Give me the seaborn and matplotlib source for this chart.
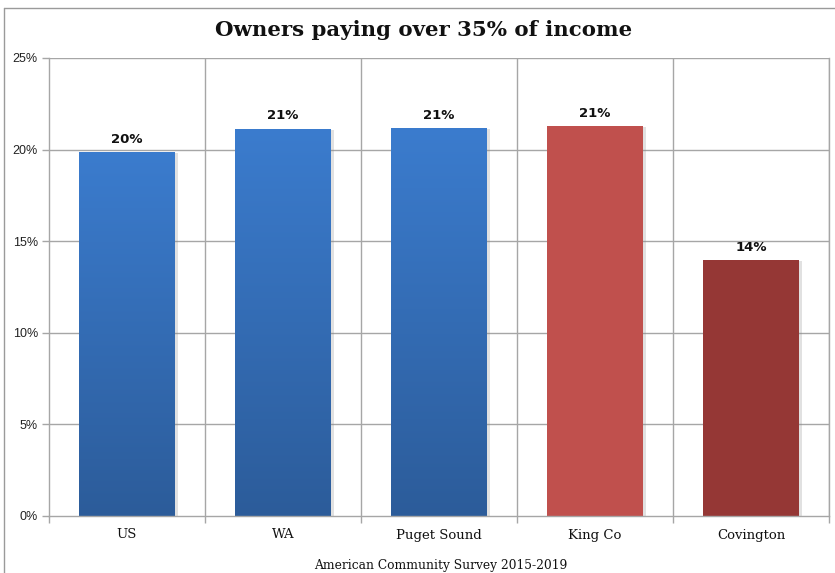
import numpy as np
import pandas as pd
import matplotlib
matplotlib.use("Agg")
import matplotlib.pyplot as plt
import matplotlib.patheffects as pe
from matplotlib.lines import Line2D
import seaborn as sns

# Share of owner households spending more than 35% of income on housing
regions = ["US", "WA", "Puget Sound", "King Co", "Covington"]
shares = [19.87, 21.13, 21.18, 21.29, 13.97]
bar_colors = ["#3A7ACB", "#3A7ACB", "#3A7ACB", "#C0504D", "#953735"]
y_ticks = [0, 5, 10, 15, 20, 25]
title_text = "Owners paying over 35% of income"
source_text = "American Community Survey 2015-2019"

df = pd.DataFrame({"region": regions, "share": shares})

sns.set_theme(style="white")
plt.rcParams["font.family"] = ["DejaVu Serif"]

fig = plt.figure(figsize=(8.35, 5.73), dpi=100)
ax = fig.add_axes([49 / 835, 57 / 573, 780 / 835, 458 / 573])

sns.barplot(data=df, x="region", y="share", hue="region", palette=bar_colors,
            order=regions, width=0.615, legend=False, ax=ax, saturation=1)

ax.set_ylim(0, 25)
ax.set_xlim(-0.5, len(regions) - 0.5)

# Vertical gradient fill for the blue bars, soft shadow for all
grad = np.linspace(0, 1, 256).reshape(-1, 1)
blue_cmap = matplotlib.colors.LinearSegmentedColormap.from_list(
    "bluegrad", ["#2C5C9A", "#3B7CCE"])
for patch, col in zip(ax.patches, bar_colors):
    patch.set_edgecolor("none")
    patch.set_path_effects([pe.SimplePatchShadow(offset=(2, -1), shadow_rgbFace="#888888", alpha=0.25),
                            pe.Normal()])
    if col == "#3A7ACB":
        x0, y0 = patch.get_x(), patch.get_y()
        w, h = patch.get_width(), patch.get_height()
        im = ax.imshow(grad, cmap=blue_cmap, aspect="auto", origin="lower",
                       extent=[x0, x0 + w, y0, y0 + h], zorder=patch.get_zorder() + 0.1)
        im.set_clip_path(patch)
ax.set_xlim(-0.5, len(regions) - 0.5)
ax.set_ylim(0, 25)

# Value labels above bars
for i, v in enumerate(shares):
    ax.text(i, v + 0.35, f"{v:.0f}%", ha="center", va="bottom",
            fontsize=9.5, fontweight="bold", family=["DejaVu Sans"], color="#111111")

# Grid: horizontal at ticks, vertical between categories
grid_color = "#A6A6A6"
ax.set_yticks(y_ticks)
ax.set_yticklabels([f"{t}%" for t in y_ticks], family=["Liberation Sans"], fontsize=9, color="#222222")
for t in y_ticks[1:]:
    ax.axhline(t, color=grid_color, lw=1, zorder=0)
for b in np.arange(0.5, len(regions) - 0.5 + 1e-9, 1.0):
    ax.axvline(b, color=grid_color, lw=1, zorder=0)

ax.set_xticks(range(len(regions)))
ax.set_xticklabels(regions, fontsize=9.5, color="#111111")
ax.tick_params(axis="x", length=0, pad=9)
ax.tick_params(axis="y", length=5, width=1, color=grid_color, direction="out", pad=3, left=True)
# small boundary ticks below the baseline
ax.set_xticks(np.arange(-0.5, len(regions)), minor=True)
ax.tick_params(axis="x", which="minor", length=5, width=1, color=grid_color, direction="out", bottom=True)

ax.set_xlabel("")
ax.set_ylabel("")
ax.spines["top"].set_visible(False)
for side in ["left", "bottom", "right"]:
    ax.spines[side].set_color(grid_color)
    ax.spines[side].set_linewidth(1)

fig.text(424 / 835, 1 - 30 / 573, title_text, ha="center", va="center",
         fontsize=15.3, fontweight="bold", color="#111111")
fig.text(441 / 835, 1 - 565 / 573, source_text, ha="center", va="center",
         fontsize=8.8, color="#111111")

# Outer chart frame
fig.add_artist(Line2D([4 / 835, 4 / 835], [0, 1 - 8 / 573], transform=fig.transFigure,
                      color="#9A9A9A", lw=1))
fig.add_artist(Line2D([4 / 835, 1], [1 - 8 / 573, 1 - 8 / 573], transform=fig.transFigure,
                      color="#9A9A9A", lw=1))

fig.savefig("out.png", dpi=100)
